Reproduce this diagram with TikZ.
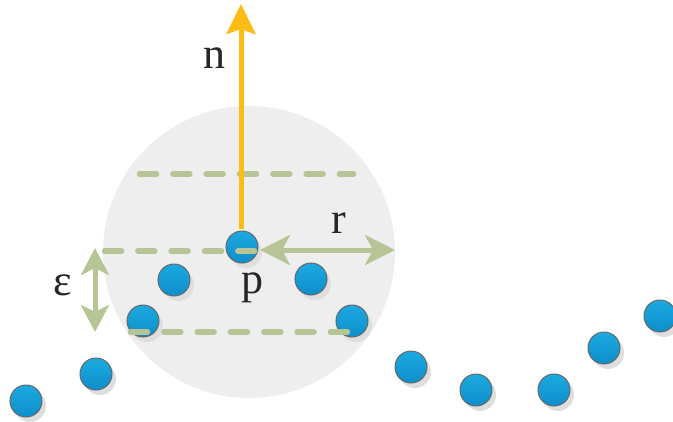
\documentclass[tikz,border=0pt]{standalone}
\usepackage{fontspec}
\setmainfont{Liberation Serif}
\usetikzlibrary{arrows.meta}
\definecolor{dotA}{HTML}{1BAAE0}
\definecolor{dotB}{HTML}{0E8ECB}
\definecolor{dotedge}{HTML}{666666}
\definecolor{sgreen}{HTML}{B7C495}
\definecolor{syellow}{HTML}{FCBC14}
\definecolor{ballgray}{HTML}{EEEEEE}
\tikzset{
  pt/.style={circle, minimum size=32pt, inner sep=0pt, top color=dotA, bottom color=dotB, draw=dotedge, line width=1pt},
  ptshadow/.style={circle, minimum size=32pt, inner sep=0pt, fill=black!13},
  dashline/.style={sgreen, line width=5.5pt, line cap=round, dash pattern=on 17pt off 16.33pt},
  greenarrow/.style={sgreen, line width=5pt, {Stealth[length=30pt,width=30pt,inset=8pt]}-{Stealth[length=30pt,width=30pt,inset=8pt]}},
  lbl/.style={font=\fontsize{44}{44}\selectfont, text=black!85, anchor=base, inner sep=0pt}
}
\begin{document}
\begin{tikzpicture}[x=1pt,y=-1pt]
\useasboundingbox (0,0) rectangle (673,421);
% ball
\node[circle, fill=ballgray, minimum size=292pt, inner sep=0pt] (ball) at (249,252) {};
% points
\foreach \n/\x/\y in {p/242/247, a/174/280, b/311/279, c/143/321, d/352/321, e/96/374, f/26/401, g/411/367, h/476/390, i/554/390, j/604/348, k/660/316} {
  \node[ptshadow] at (\x+4,\y+5) {};
  \node[pt] (\n) at (\x,\y) {};
}
% dashed lines
\coordinate (t1) at (139.5,174); \coordinate (t2) at (353.5,174);
\coordinate (m1) at (104.5,251); \coordinate (m2) at (254.5,251);
\coordinate (b1) at (130.5,332); \coordinate (b2) at (347.5,332);
\draw[dashline] (t1) -- (t2);
\draw[dashline] (m1) -- (m2);
\draw[dashline] (b1) -- (b2);
% normal arrow
\coordinate (ntip) at (241,4);
\draw[syellow, line width=5pt, -{Stealth[length=30pt,width=29pt,inset=5pt]}] (p.north) ++(-1,-2) coordinate (nbase) -- (ntip);
% r arrow
\coordinate (r1) at (260,250);
\coordinate (r2) at (395,250);
\draw[greenarrow] (r1) -- (r2);
% epsilon arrow
\coordinate (e1) at (95,248); \coordinate (e2) at (95,332);
\draw[greenarrow, {Stealth[length=27pt,width=28pt,inset=7pt]}-{Stealth[length=27pt,width=28pt,inset=7pt]}] (e1) -- (e2);
% labels
\node[lbl] (nl) at (214,68) {n};
\node[lbl] (rl) at (339,233) {r};
\node[lbl] (pl) at (252,293) {p};
\node[lbl] (el) at (63,295) {ε};
\end{tikzpicture}
\end{document}
